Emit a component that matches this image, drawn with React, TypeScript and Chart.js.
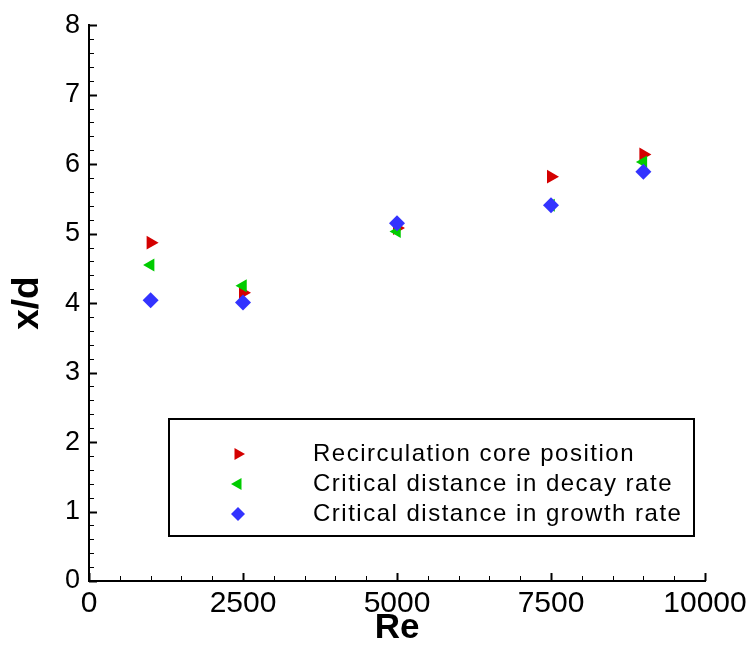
import React, { useEffect, useRef } from "react";
import { Chart, registerables } from "chart.js";

Chart.register(...registerables);

const reynolds = [1000, 2500, 5000, 7500, 9000];
const coreLabel = "Recirculation core position";
const decayLabel = "Critical distance in decay rate";
const growthLabel = "Critical distance in growth rate";
const corePosition = [4.87, 4.15, 5.08, 5.82, 6.14];
const decayDistance = [4.55, 4.25, 5.03, 5.41, 6.03];
const growthDistance = [4.04, 4.01, 5.15, 5.41, 5.89];
const xTicks = [0, 2500, 5000, 7500, 10000];
const yTicks = [0, 1, 2, 3, 4, 5, 6, 7, 8];

const RED = "#d40000";
const GREEN = "#00cc00";
const BLUE = "#3333ff";
const FONT = "'Liberation Sans', Arial, sans-serif";

function drawMarker(ctx: CanvasRenderingContext2D, style: string, rot: number, x: number, y: number, r: number, color: string) {
  ctx.save();
  ctx.fillStyle = color;
  ctx.beginPath();
  if (style === "triangle") {
    const rad = (rot * Math.PI) / 180;
    for (let k = 0; k < 3; k++) {
      const a = rad + (k * 2 * Math.PI) / 3;
      const px = x + Math.sin(a) * r;
      const py = y - Math.cos(a) * r;
      if (k === 0) ctx.moveTo(px, py);
      else ctx.lineTo(px, py);
    }
  } else {
    ctx.moveTo(x, y - r);
    ctx.lineTo(x + r, y);
    ctx.lineTo(x, y + r);
    ctx.lineTo(x - r, y);
  }
  ctx.closePath();
  ctx.fill();
  ctx.restore();
}

const inwardTicks = {
  id: "inwardTicks",
  beforeDatasetsDraw(chart: any) {
    const { ctx, chartArea, scales } = chart;
    const xs = scales.x;
    const ys = scales.y;
    ctx.save();
    ctx.strokeStyle = "#000";
    for (let v = 0; v <= 10000; v += 500) {
      const major = v % 2500 === 0;
      const px = Math.round(xs.getPixelForValue(v)) + 0.5;
      ctx.lineWidth = major ? 2 : 1;
      ctx.beginPath();
      ctx.moveTo(px, chartArea.bottom);
      ctx.lineTo(px, chartArea.bottom - (major ? 8 : 5));
      ctx.stroke();
    }
    for (let i = 0; i <= 40; i++) {
      const v = i * 0.2;
      const major = i % 5 === 0;
      const py = Math.round(ys.getPixelForValue(v)) + 0.5;
      ctx.lineWidth = major ? 2 : 1;
      ctx.beginPath();
      ctx.moveTo(chartArea.left, py);
      ctx.lineTo(chartArea.left + (major ? 8 : 5), py);
      ctx.stroke();
    }
    ctx.restore();
  },
};

const boxLegend = {
  id: "boxLegend",
  afterDraw(chart: any) {
    const { ctx } = chart;
    const left = 169;
    const top = 419;
    const right = 694;
    const bottom = 536;
    ctx.save();
    ctx.fillStyle = "#fff";
    ctx.fillRect(left, top, right - left, bottom - top);
    ctx.lineWidth = 2;
    ctx.strokeStyle = "#000";
    ctx.strokeRect(left, top, right - left, bottom - top);
    ctx.font = `24px ${FONT}`;
    (ctx as any).letterSpacing = "1.5px";
    ctx.textBaseline = "middle";
    ctx.fillStyle = "#000";
    chart.data.datasets.forEach((ds: any, i: number) => {
      const y = 454 + i * 30;
      drawMarker(ctx, ds.pointStyle, ds.rotation || 0, 238, y, 7, ds.backgroundColor);
      ctx.fillText(ds.label, 313, y);
    });
    ctx.restore();
  },
};

export default function App() {
  const ref = useRef<HTMLCanvasElement>(null);
  useEffect(() => {
    if (!ref.current) return;
    const mk = (arr: number[]) => reynolds.map((x, i) => ({ x, y: arr[i] }));
    const chart = new Chart(ref.current, {
      type: "scatter",
      data: {
        datasets: [
          {
            label: coreLabel,
            data: mk(corePosition),
            pointStyle: "triangle",
            rotation: 90,
            radius: 8,
            backgroundColor: RED,
            borderWidth: 0,
            order: 3,
          },
          {
            label: decayLabel,
            data: mk(decayDistance),
            pointStyle: "triangle",
            rotation: -90,
            radius: 7.5,
            backgroundColor: GREEN,
            borderWidth: 0,
            order: 2,
          },
          {
            label: growthLabel,
            data: mk(growthDistance),
            pointStyle: "rectRot",
            radius: 8,
            backgroundColor: BLUE,
            borderWidth: 0,
            order: 1,
          },
        ] as any,
      },
      options: {
        responsive: false,
        animation: false,
        devicePixelRatio: 1,
        layout: { padding: { top: 20, right: 47, left: 0, bottom: 0 } },
        plugins: { legend: { display: false }, tooltip: { enabled: false } },
        scales: {
          x: {
            type: "linear",
            min: 0,
            max: 10000,
            afterBuildTicks: (s: any) => {
              s.ticks = xTicks.map((v) => ({ value: v }));
            },
            afterFit: (s: any) => {
              s.height = 68;
            },
            grid: { display: false, drawTicks: false },
            border: { display: true, color: "#000", width: 2 },
            ticks: {
              color: "#000",
              padding: 5,
              maxRotation: 0,
              callback: (v: any) => String(v),
              font: { family: FONT, size: 30 },
            },
            title: {
              display: true,
              text: "Re",
              color: "#000",
              padding: { top: 0, bottom: 0 },
              font: { family: FONT, size: 35, weight: "bold" },
            },
          },
          y: {
            type: "linear",
            min: 0,
            max: 8,
            afterBuildTicks: (s: any) => {
              s.ticks = yTicks.map((v) => ({ value: v }));
            },
            afterFit: (s: any) => {
              s.width = 89;
            },
            grid: { display: false, drawTicks: false },
            border: { display: true, color: "#000", width: 2 },
            ticks: {
              color: "#000",
              padding: 9,
              callback: (v: any) => String(v),
              font: { family: FONT, size: 27 },
            },
            title: {
              display: true,
              text: "x/d",
              color: "#000",
              padding: { top: 6, bottom: 0 },
              font: { family: FONT, size: 37, weight: "bold" },
            },
          },
        },
      } as any,
      plugins: [inwardTicks, boxLegend],
    });
    return () => chart.destroy();
  }, []);
  return (
    <div style={{ position: "fixed", left: 0, top: 0, width: 752, height: 649, background: "#fff" }}>
      <canvas ref={ref} width={752} height={649} style={{ width: 752, height: 649, display: "block" }} />
    </div>
  );
}
